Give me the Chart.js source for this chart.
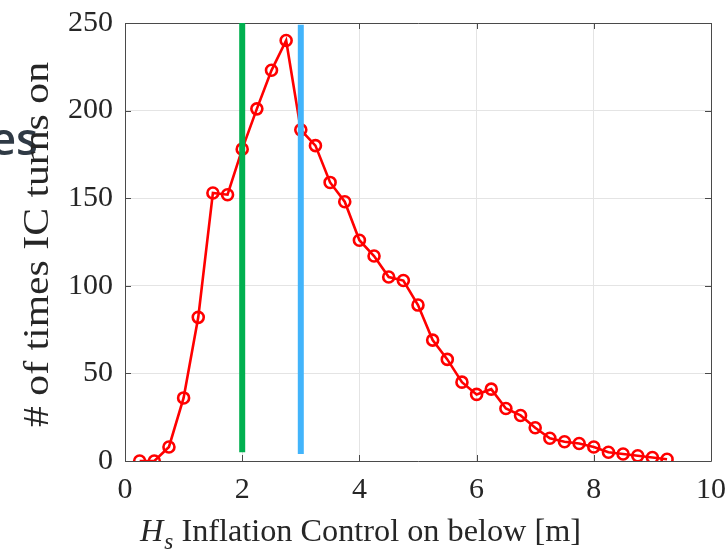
<!DOCTYPE html>
<html>
<head>
<meta charset="utf-8">
<script src="https://cdn.jsdelivr.net/npm/chart.js@4.4.1/dist/chart.umd.min.js"></script>
<style>
html,body{margin:0;padding:0;background:#ffffff;overflow:hidden}
canvas{display:block}
</style>
</head>
<body>
<canvas id="c" width="727" height="552"></canvas>
<script>
// ---- data ----
const hsValues = [0.25,0.5,0.75,1.0,1.25,1.5,1.75,2.0,2.25,2.5,2.75,3.0,3.25,3.5,3.75,4.0,4.25,4.5,4.75,5.0,5.25,5.5,5.75,6.0,6.25,6.5,6.75,7.0,7.25,7.5,7.75,8.0,8.25,8.5,8.75,9.0,9.25];
const counts   = [0,0,8,36,82,153,152,178,201,223,240,189,180,159,148,126,117,105,103,89,69,58,45,38,41,30,26,19,13,11,10,8,5,4,3,2,1];
const greenLineX = [2, 2];
const greenLineY = [5, 250];
const blueLineX  = [3, 3];
const blueLineY  = [4, 249];
const xTickValues = [0,2,4,6,8,10];
const yTickValues = [0,50,100,150,200,250];
const xTitleMain = 'H';
const xTitleSub = 's';
const xTitleRest = ' Inflation Control on below [m]';
const yTitleText = '# of times IC turns on';
const fragmentText = 'es';

const SERIF = '"Liberation Serif", "Times New Roman", serif';
const AXIS_COLOR = '#4a4a4a';
const TEXT_COLOR = '#262626';

const toPoints = (xs, ys) => xs.map((x, i) => ({x: x, y: ys[i]}));

const boxPlugin = {
  id: 'boxPlugin',
  beforeDatasetsDraw(chart) {
    const ctx = chart.ctx, a = chart.chartArea;
    const xs = chart.scales.x, ys = chart.scales.y;
    const tl = 6;
    ctx.save();
    ctx.strokeStyle = AXIS_COLOR;
    ctx.lineWidth = 1;
    ctx.beginPath();
    ctx.rect(Math.round(a.left) + 0.5, Math.round(a.top) + 0.5, Math.round(a.right - a.left), Math.round(a.bottom - a.top));
    xTickValues.forEach(v => {
      const px = Math.round(xs.getPixelForValue(v)) + 0.5;
      ctx.moveTo(px, a.bottom); ctx.lineTo(px, a.bottom - tl);
      ctx.moveTo(px, a.top); ctx.lineTo(px, a.top + tl);
    });
    yTickValues.forEach(v => {
      const py = Math.round(ys.getPixelForValue(v)) + 0.5;
      ctx.moveTo(a.left, py); ctx.lineTo(a.left + tl, py);
      ctx.moveTo(a.right, py); ctx.lineTo(a.right - tl, py);
    });
    ctx.stroke();
    ctx.restore();
  }
};

const textPlugin = {
  id: 'textPlugin',
  beforeDraw(chart) {
    const ctx = chart.ctx;
    ctx.save();
    ctx.fillStyle = '#2f3a45';
    ctx.font = '600 45px "Open Sans", "Noto Sans", sans-serif';
    ctx.textAlign = 'right';
    ctx.textBaseline = 'alphabetic';
    ctx.fillText(fragmentText, 38, 155);
    ctx.restore();
  },
  afterDraw(chart) {
    const ctx = chart.ctx;
    ctx.save();
    ctx.fillStyle = TEXT_COLOR;
    ctx.textBaseline = 'alphabetic';
    ctx.textAlign = 'left';
    // x title
    const fMain = 'italic 32px ' + SERIF;
    const fSub = 'italic 23px ' + SERIF;
    const fRest = '32px ' + SERIF;
    ctx.font = fMain; const wH = ctx.measureText(xTitleMain).width;
    ctx.font = fSub; const wS = ctx.measureText(xTitleSub).width;
    ctx.font = fRest; const wR = ctx.measureText(xTitleRest).width;
    const total = wH + 1 + wS + wR;
    const targetW = 441, x0 = 140, base = 541;
    const sx = targetW / total;
    ctx.translate(x0, base);
    ctx.scale(sx, 1);
    ctx.font = fMain; ctx.fillText(xTitleMain, 0, 0);
    ctx.font = fSub; ctx.fillText(xTitleSub, wH + 1, 8);
    ctx.font = fRest; ctx.fillText(xTitleRest, wH + 1 + wS, 0);
    ctx.restore();

    // y title
    ctx.save();
    ctx.fillStyle = TEXT_COLOR;
    ctx.textBaseline = 'alphabetic';
    ctx.textAlign = 'left';
    ctx.font = '35px ' + SERIF;
    const wy = ctx.measureText(yTitleText).width;
    const ty = 365 / wy;
    ctx.translate(48, 427);
    ctx.rotate(-Math.PI / 2);
    ctx.scale(ty, 1);
    ctx.fillText(yTitleText, 0, 0);
    ctx.restore();
  }
};

new Chart(document.getElementById('c'), {
  type: 'line',
  data: {
    datasets: [
      {
        data: toPoints(greenLineX, greenLineY),
        borderColor: '#00b04f',
        borderWidth: 6,
        pointRadius: 0,
        borderCapStyle: 'butt',
        order: 0
      },
      {
        data: toPoints(blueLineX, blueLineY),
        borderColor: '#42b4fb',
        borderWidth: 6,
        pointRadius: 0,
        borderCapStyle: 'butt',
        order: 0
      },
      {
        data: toPoints(hsValues, counts),
        borderColor: '#ff0000',
        borderWidth: 2.6,
        tension: 0,
        pointRadius: 5.5,
        pointBorderWidth: 2.6,
        pointBorderColor: '#ff0000',
        pointBackgroundColor: 'rgba(255,255,255,0)',
        order: 1
      }
    ]
  },
  options: {
    responsive: false,
    animation: false,
    devicePixelRatio: 1,
    layout: { padding: { left: 0, right: 16, top: 23, bottom: 0 } },
    plugins: { legend: { display: false }, tooltip: { enabled: false } },
    scales: {
      x: {
        type: 'linear',
        min: 0, max: 10,
        afterBuildTicks(s) { s.ticks = xTickValues.map(v => ({value: v})); },
        afterFit(s) { s.height = 91; s.paddingLeft = 0; s.paddingRight = 0; },
        ticks: { font: { family: SERIF, size: 30 }, color: TEXT_COLOR, padding: 11, maxRotation: 0 },
        grid: { color: '#e4e4e4', lineWidth: 1, drawTicks: false },
        border: { display: false }
      },
      y: {
        type: 'linear',
        min: 0, max: 250,
        afterBuildTicks(s) { s.ticks = yTickValues.map(v => ({value: v})); },
        afterFit(s) { s.width = 125; s.paddingTop = 0; s.paddingBottom = 0; },
        ticks: { font: { family: SERIF, size: 30 }, color: TEXT_COLOR, padding: 12 },
        grid: { color: '#e4e4e4', lineWidth: 1, drawTicks: false },
        border: { display: false }
      }
    }
  },
  plugins: [boxPlugin, textPlugin]
});
</script>
</body>
</html>
